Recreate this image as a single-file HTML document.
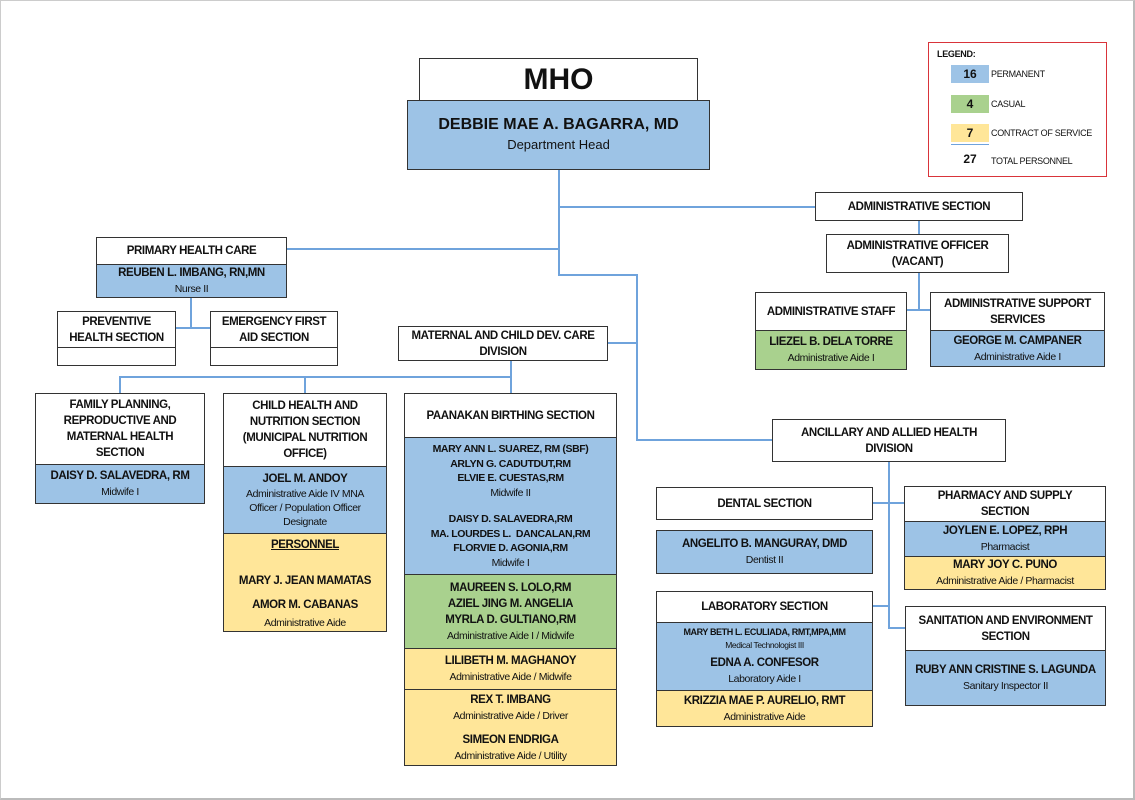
<!DOCTYPE html>
<html><head><meta charset="utf-8"><style>
*{box-sizing:border-box;margin:0;padding:0}
body{width:1135px;height:800px;background:#fff;position:relative;overflow:hidden;font-family:"Liberation Sans Narrow","Liberation Sans",sans-serif;color:#111}
.frame{position:absolute;left:0;top:0;width:1135px;height:800px;border:1px solid #ccc;border-right:2px solid #bbb;border-bottom:2px solid #bbb}
.b{position:absolute;border:1.5px solid #333;display:flex;flex-direction:column;background:#fff}
.s{display:flex;flex-direction:column;justify-content:center;align-items:center;text-align:center;line-height:16px;font-size:11.5px;letter-spacing:-0.4px;white-space:nowrap}
.s+.s{border-top:1.5px solid #333}
.h{font-weight:bold}
.n{font-weight:bold;font-size:11.5px}
.r{font-size:10.5px}
.bl{background:#9dc3e6}.gr{background:#a9d18e}.ye{background:#ffe699}
.l{position:absolute;background:#6fa3dc}
.hz{height:2px}.vt{width:2px}
.lg{position:absolute;white-space:nowrap;font-size:9px;letter-spacing:-0.3px}
</style></head><body>
<div class="frame"></div>

<!-- connectors -->
<div class="l vt" style="left:558px;top:170px;height:106px"></div>
<div class="l hz" style="left:558px;top:206px;width:257px"></div>
<div class="l hz" style="left:287px;top:248px;width:273px"></div>
<div class="l hz" style="left:558px;top:274px;width:80px"></div>
<div class="l vt" style="left:636px;top:274px;height:167px"></div>
<div class="l hz" style="left:636px;top:439px;width:136px"></div>
<div class="l hz" style="left:608px;top:342px;width:30px"></div>
<div class="l vt" style="left:918px;top:221px;height:13px"></div>
<div class="l vt" style="left:918px;top:273px;height:38px"></div>
<div class="l hz" style="left:907px;top:309px;width:23px"></div>
<div class="l vt" style="left:190px;top:298px;height:31px"></div>
<div class="l hz" style="left:176px;top:327px;width:34px"></div>
<div class="l vt" style="left:510px;top:361px;height:33px"></div>
<div class="l hz" style="left:120px;top:376px;width:392px"></div>
<div class="l vt" style="left:119px;top:376px;height:18px"></div>
<div class="l vt" style="left:304px;top:376px;height:18px"></div>
<div class="l vt" style="left:888px;top:462px;height:167px"></div>
<div class="l hz" style="left:873px;top:502px;width:31px"></div>
<div class="l hz" style="left:873px;top:605px;width:17px"></div>
<div class="l hz" style="left:888px;top:627px;width:17px"></div>

<!-- MHO -->
<div class="b" style="left:419px;top:58px;width:279px;height:44px"><div class="s" style="flex:1;font-family:'Liberation Sans',sans-serif;font-weight:bold;font-size:30px;letter-spacing:0">MHO</div></div>
<div class="b bl" style="left:407px;top:100px;width:303px;height:70px"><div class="s bl" style="flex:1;font-family:'Liberation Sans',sans-serif;line-height:20px;letter-spacing:0"><span style="font-weight:bold;font-size:16px">DEBBIE MAE A. BAGARRA, MD</span><span style="font-size:13px">Department Head</span></div></div>

<!-- legend -->
<div style="position:absolute;left:928px;top:42px;width:179px;height:135px;border:1.5px solid #d9343a;font-size:10px">
<div class="lg" style="left:8px;top:6px;font-weight:bold">LEGEND:</div>
<div class="bl" style="position:absolute;left:22px;top:22px;width:38px;height:18px;text-align:center;font-weight:bold;font-size:12px;line-height:18px">16</div><div class="lg" style="left:62px;top:26px">PERMANENT</div>
<div class="gr" style="position:absolute;left:22px;top:52px;width:38px;height:18px;text-align:center;font-weight:bold;font-size:12px;line-height:18px">4</div><div class="lg" style="left:62px;top:56px">CASUAL</div>
<div class="ye" style="position:absolute;left:22px;top:81px;width:38px;height:18px;text-align:center;font-weight:bold;font-size:12px;line-height:18px">7</div><div class="lg" style="left:62px;top:85px">CONTRACT OF SERVICE</div>
<div style="position:absolute;left:22px;top:101px;width:38px;height:1px;background:#6fa3dc"></div>
<div style="position:absolute;left:22px;top:109px;width:38px;text-align:center;font-weight:bold;font-size:12px">27</div><div class="lg" style="left:62px;top:113px">TOTAL PERSONNEL</div>
</div>

<!-- admin -->
<div class="b" style="left:815px;top:192px;width:208px;height:29px"><div class="s h" style="flex:1">ADMINISTRATIVE SECTION</div></div>
<div class="b" style="left:826px;top:234px;width:183px;height:39px"><div class="s h" style="flex:1">ADMINISTRATIVE OFFICER<br>(VACANT)</div></div>
<div class="b" style="left:755px;top:292px;width:152px;height:78px"><div class="s h" style="height:37px">ADMINISTRATIVE STAFF</div><div class="s gr" style="flex:1"><span class="n">LIEZEL B. DELA TORRE</span><span class="r">Administrative Aide I</span></div></div>
<div class="b" style="left:930px;top:292px;width:175px;height:75px"><div class="s h" style="height:37px">ADMINISTRATIVE SUPPORT<br>SERVICES</div><div class="s bl" style="flex:1"><span class="n">GEORGE M. CAMPANER</span><span class="r">Administrative Aide I</span></div></div>

<!-- PHC -->
<div class="b" style="left:96px;top:237px;width:191px;height:61px"><div class="s h" style="height:27px">PRIMARY HEALTH CARE</div><div class="s bl" style="flex:1"><span class="n">REUBEN L. IMBANG, RN,MN</span><span class="r">Nurse II</span></div></div>
<div class="b" style="left:57px;top:311px;width:119px;height:55px"><div class="s h" style="height:35px">PREVENTIVE<br>HEALTH SECTION</div><div class="s" style="flex:1"></div></div>
<div class="b" style="left:210px;top:311px;width:128px;height:55px"><div class="s h" style="height:35px">EMERGENCY FIRST<br>AID SECTION</div><div class="s" style="flex:1"></div></div>

<!-- maternal -->
<div class="b" style="left:398px;top:326px;width:210px;height:35px"><div class="s h" style="flex:1">MATERNAL AND CHILD DEV. CARE<br>DIVISION</div></div>
<div class="b" style="left:35px;top:393px;width:170px;height:111px"><div class="s h" style="height:70px">FAMILY PLANNING,<br>REPRODUCTIVE AND<br>MATERNAL HEALTH<br>SECTION</div><div class="s bl" style="flex:1"><span class="n">DAISY D. SALAVEDRA, RM</span><span class="r">Midwife I</span></div></div>
<div class="b" style="left:223px;top:393px;width:164px;height:239px"><div class="s h" style="height:72px">CHILD HEALTH AND<br>NUTRITION SECTION<br>(MUNICIPAL NUTRITION<br>OFFICE)</div><div class="s bl" style="height:67px;line-height:14px"><span class="n" style="line-height:16px">JOEL M. ANDOY</span><span class="r">Administrative Aide IV MNA<br>Officer / Population Officer<br>Designate</span></div><div class="s ye" style="flex:1;justify-content:flex-start;padding-top:3px"><span class="n" style="text-decoration:underline">PERSONNEL</span><span class="n" style="margin-top:20px">MARY J. JEAN MAMATAS</span><span class="n" style="margin-top:8px">AMOR M. CABANAS</span><span class="r" style="margin-top:2px">Administrative Aide</span></div></div>
<div class="b" style="left:404px;top:393px;width:213px;height:373px"><div class="s h" style="height:43px">PAANAKAN BIRTHING SECTION</div>
<div class="s bl" style="height:137px;line-height:14.5px;font-size:10.5px"><span class="h">MARY ANN L. SUAREZ, RM (SBF)<br>ARLYN G. CADUTDUT,RM<br>ELVIE E. CUESTAS,RM</span><span>Midwife II</span><span class="h" style="margin-top:12px">DAISY D. SALAVEDRA,RM<br>MA. LOURDES L.&nbsp; DANCALAN,RM<br>FLORVIE D. AGONIA,RM</span><span>Midwife I</span></div>
<div class="s gr" style="height:74px"><span class="n">MAUREEN S. LOLO,RM<br>AZIEL JING M. ANGELIA<br>MYRLA D. GULTIANO,RM</span><span class="r">Administrative Aide I / Midwife</span></div>
<div class="s ye" style="height:41px"><span class="n">LILIBETH M. MAGHANOY</span><span class="r">Administrative Aide / Midwife</span></div>
<div class="s ye" style="flex:1"><span class="n">REX T. IMBANG</span><span class="r">Administrative Aide / Driver</span><span class="n" style="margin-top:8px">SIMEON ENDRIGA</span><span class="r">Administrative Aide / Utility</span></div></div>

<!-- ancillary -->
<div class="b" style="left:772px;top:419px;width:234px;height:43px"><div class="s h" style="flex:1">ANCILLARY AND ALLIED HEALTH<br>DIVISION</div></div>
<div class="b" style="left:656px;top:487px;width:217px;height:33px"><div class="s h" style="flex:1">DENTAL SECTION</div></div>
<div class="b bl" style="left:656px;top:530px;width:217px;height:44px"><div class="s bl" style="flex:1"><span class="n">ANGELITO B. MANGURAY, DMD</span><span class="r">Dentist II</span></div></div>
<div class="b" style="left:656px;top:591px;width:217px;height:136px"><div class="s h" style="height:30px">LABORATORY SECTION</div><div class="s bl" style="height:68px"><span class="h" style="font-size:9px;line-height:13px">MARY BETH L. ECULIADA, RMT,MPA,MM</span><span style="font-size:8.5px;line-height:12px">Medical Technologist III</span><span class="n" style="margin-top:4px">EDNA A. CONFESOR</span><span class="r">Laboratory Aide I</span></div><div class="s ye" style="flex:1"><span class="n">KRIZZIA MAE P. AURELIO, RMT</span><span class="r">Administrative Aide</span></div></div>
<div class="b" style="left:904px;top:486px;width:202px;height:104px"><div class="s h" style="height:34px">PHARMACY AND SUPPLY<br>SECTION</div><div class="s bl" style="height:35px"><span class="n">JOYLEN E. LOPEZ, RPH</span><span class="r">Pharmacist</span></div><div class="s ye" style="flex:1"><span class="n">MARY JOY C. PUNO</span><span class="r">Administrative Aide / Pharmacist</span></div></div>
<div class="b" style="left:905px;top:606px;width:201px;height:100px"><div class="s h" style="height:43px">SANITATION AND ENVIRONMENT<br>SECTION</div><div class="s bl" style="flex:1"><span class="n">RUBY ANN CRISTINE S. LAGUNDA</span><span class="r">Sanitary Inspector II</span></div></div>
</body></html>
